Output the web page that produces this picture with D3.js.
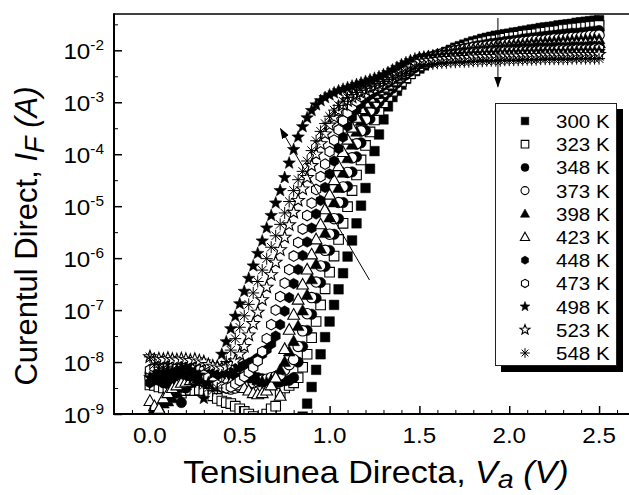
<!DOCTYPE html>
<html lang="ro">
<head>
<meta charset="UTF-8">
<title>Curentul direct - tensiunea directa</title>
<script src="https://d3js.org/d3.v7.min.js"></script>
<style>
  body { margin: 0; background: #fff; }
  svg { display: block; font-family: "Liberation Sans", Arial, sans-serif; }
</style>
</head>
<body>
<script>
// tensiunea aplicata (V), pasul masuratorii
var voltage = [
  0.000,0.025,0.050,0.075,0.100,0.125,0.150,0.175,0.200,0.225,
  0.250,0.275,0.300,0.325,0.350,0.375,0.400,0.425,0.450,0.475,
  0.500,0.525,0.550,0.575,0.600,0.625,0.650,0.675,0.700,0.725,
  0.750,0.775,0.800,0.825,0.850,0.875,0.900,0.925,0.950,0.975,
  1.000,1.025,1.050,1.075,1.100,1.125,1.150,1.175,1.200,1.225,
  1.250,1.275,1.300,1.325,1.350,1.375,1.400,1.425,1.450,1.475,
  1.500,1.525,1.550,1.575,1.600,1.625,1.650,1.675,1.700,1.725,
  1.750,1.775,1.800,1.825,1.850,1.875,1.900,1.925,1.950,1.975,
  2.000,2.025,2.050,2.075,2.100,2.125,2.150,2.175,2.200,2.225,
  2.250,2.275,2.300,2.325,2.350,2.375,2.400,2.425,2.450,2.475,
  2.500];

// log10 din curent (A); null = sub 1e-9
var logI_300K = [
  null,null,null,null,null,null,null,null,null,null,
  null,null,null,null,null,null,null,null,null,null,
  null,null,null,null,null,null,null,null,null,null,
  null,null,null,null,-9.05,-8.80,-8.48,-8.15,-7.85,-7.52,
  -7.22,-6.90,-6.60,-6.29,-5.97,-5.66,-5.33,-4.99,-4.65,-4.28,
  -3.94,-3.62,-3.33,-3.08,-2.90,-2.78,-2.66,-2.55,-2.46,-2.40,
  -2.35,-2.29,-2.23,-2.17,-2.12,-2.07,-2.03,-1.99,-1.95,-1.92,
  -1.89,-1.86,-1.83,-1.81,-1.78,-1.76,-1.74,-1.72,-1.71,-1.69,
  -1.68,-1.66,-1.65,-1.63,-1.62,-1.60,-1.59,-1.57,-1.56,-1.55,
  -1.54,-1.52,-1.51,-1.50,-1.49,-1.47,-1.46,-1.45,-1.44,-1.43,
  -1.42];
var logI_323K = [
  -8.44,-8.45,-8.48,-8.50,-8.52,-8.50,-8.55,-8.60,-8.55,-8.54,
  -8.55,-8.54,-8.55,-8.60,-8.65,-8.70,-8.75,-8.78,-8.80,-8.85,
  -8.90,-8.95,-9.00,-9.05,-9.10,-9.20,-9.00,-8.90,-8.85,-8.60,
  -8.50,-8.45,-8.40,-8.30,-8.10,-7.85,-7.53,-7.22,-6.90,-6.59,
  -6.27,-5.96,-5.64,-5.33,-5.01,-4.70,-4.40,-4.11,-3.83,-3.57,
  -3.34,-3.16,-3.01,-2.89,-2.79,-2.69,-2.60,-2.53,-2.45,-2.38,
  -2.30,-2.25,-2.21,-2.16,-2.12,-2.08,-2.05,-2.02,-1.99,-1.96,
  -1.94,-1.91,-1.89,-1.87,-1.85,-1.83,-1.81,-1.80,-1.78,-1.77,
  -1.75,-1.74,-1.73,-1.71,-1.70,-1.69,-1.68,-1.66,-1.65,-1.64,
  -1.63,-1.62,-1.60,-1.59,-1.58,-1.57,-1.56,-1.55,-1.54,-1.53,
  -1.52];
var logI_348K = [
  -8.22,-8.30,-8.35,-8.40,-8.42,-8.45,-8.47,-8.78,-8.50,-8.40,
  -8.35,-8.30,-8.28,-8.25,-8.22,-8.20,-8.22,-8.25,-8.28,-8.30,
  -8.30,-8.32,-8.30,-8.28,-8.30,-8.32,-8.35,-8.38,-8.40,-8.38,
  -8.36,-8.35,-8.30,-8.00,-7.70,-7.39,-7.08,-6.77,-6.47,-6.16,
  -5.85,-5.54,-5.24,-4.93,-4.62,-4.34,-4.05,-3.78,-3.54,-3.32,
  -3.14,-3.00,-2.90,-2.81,-2.73,-2.63,-2.54,-2.47,-2.40,-2.33,
  -2.26,-2.22,-2.18,-2.14,-2.10,-2.07,-2.05,-2.02,-2.00,-1.98,
  -1.96,-1.95,-1.93,-1.91,-1.90,-1.88,-1.87,-1.86,-1.85,-1.83,
  -1.82,-1.81,-1.80,-1.78,-1.77,-1.76,-1.75,-1.74,-1.73,-1.72,
  -1.71,-1.70,-1.69,-1.68,-1.67,-1.67,-1.66,-1.65,-1.64,-1.63,
  -1.62];
var logI_373K = [
  -8.30,-8.25,-8.22,-8.20,-8.18,-8.20,-8.22,-8.25,-8.28,-8.30,
  -8.32,-8.35,-8.38,-8.40,-8.42,-8.45,-8.48,-8.50,-8.52,-8.50,
  -8.48,-8.45,-8.42,-8.40,-8.38,-8.35,-8.33,-8.30,-8.28,-8.25,
  -8.15,-8.05,-7.95,-7.70,-7.40,-7.07,-6.76,-6.46,-6.15,-5.85,
  -5.54,-5.24,-4.93,-4.63,-4.35,-4.07,-3.80,-3.55,-3.33,-3.16,
  -3.02,-2.91,-2.82,-2.74,-2.66,-2.58,-2.50,-2.43,-2.36,-2.29,
  -2.22,-2.19,-2.15,-2.12,-2.09,-2.07,-2.05,-2.03,-2.01,-2.00,
  -1.98,-1.97,-1.95,-1.94,-1.93,-1.92,-1.91,-1.90,-1.89,-1.88,
  -1.87,-1.86,-1.85,-1.84,-1.83,-1.82,-1.81,-1.81,-1.80,-1.79,
  -1.78,-1.78,-1.77,-1.76,-1.75,-1.75,-1.74,-1.73,-1.72,-1.72,
  -1.71];
var logI_398K = [
  -9.05,-8.95,-8.88,-8.80,-8.76,-8.70,-8.60,-8.50,-8.45,-8.40,
  -8.35,-8.30,-8.28,-8.25,-8.22,-8.20,-8.22,-8.25,-8.28,-8.30,
  -8.32,-8.30,-8.30,-8.32,-8.35,-8.38,-8.40,-8.35,-8.28,-8.15,
  -8.00,-7.80,-7.60,-7.31,-7.01,-6.71,-6.41,-6.12,-5.82,-5.52,
  -5.22,-4.93,-4.65,-4.36,-4.08,-3.82,-3.57,-3.36,-3.18,-3.03,
  -2.92,-2.84,-2.77,-2.70,-2.63,-2.56,-2.48,-2.41,-2.34,-2.27,
  -2.20,-2.17,-2.14,-2.12,-2.09,-2.08,-2.06,-2.05,-2.03,-2.02,
  -2.01,-2.00,-1.98,-1.97,-1.96,-1.95,-1.94,-1.93,-1.92,-1.92,
  -1.91,-1.90,-1.89,-1.89,-1.88,-1.87,-1.86,-1.86,-1.85,-1.84,
  -1.84,-1.83,-1.83,-1.82,-1.82,-1.81,-1.81,-1.80,-1.80,-1.79,
  -1.79];
var logI_423K = [
  -8.75,-8.85,-8.90,-8.70,-8.60,-8.50,-8.45,-8.40,-8.38,-8.35,
  -8.32,-8.30,-8.30,-8.28,-8.30,-8.32,-8.35,-8.38,-8.40,-8.42,
  -8.45,-8.50,-8.55,-8.60,-8.62,-8.60,-8.55,-8.45,-8.30,-8.65,
  -7.75,-7.38,-7.09,-6.80,-6.51,-6.22,-5.93,-5.64,-5.35,-5.06,
  -4.78,-4.50,-4.23,-3.96,-3.72,-3.49,-3.30,-3.13,-3.01,-2.91,
  -2.84,-2.77,-2.72,-2.66,-2.60,-2.53,-2.46,-2.39,-2.32,-2.25,
  -2.18,-2.16,-2.13,-2.11,-2.09,-2.08,-2.07,-2.05,-2.04,-2.03,
  -2.02,-2.01,-2.00,-1.99,-1.98,-1.98,-1.97,-1.96,-1.96,-1.95,
  -1.95,-1.94,-1.94,-1.93,-1.93,-1.92,-1.92,-1.91,-1.91,-1.91,
  -1.90,-1.90,-1.89,-1.89,-1.88,-1.88,-1.87,-1.87,-1.87,-1.86,
  -1.86];
var logI_448K = [
  -8.40,-8.35,-8.30,-8.32,-8.28,-8.30,-8.25,-8.22,-8.25,-8.28,
  -8.30,-8.32,-8.35,-8.30,-8.28,-8.25,-8.20,-8.18,-8.15,-8.12,
  -8.10,-8.06,-8.02,-7.98,-7.92,-7.85,-7.76,-7.65,-7.50,-7.28,
  -7.02,-6.76,-6.49,-6.22,-5.95,-5.69,-5.42,-5.15,-4.89,-4.64,
  -4.38,-4.13,-3.89,-3.67,-3.46,-3.29,-3.14,-3.03,-2.93,-2.86,
  -2.80,-2.74,-2.68,-2.63,-2.57,-2.51,-2.44,-2.37,-2.30,-2.23,
  -2.17,-2.15,-2.13,-2.12,-2.10,-2.09,-2.08,-2.07,-2.06,-2.05,
  -2.04,-2.04,-2.03,-2.02,-2.01,-2.01,-2.00,-1.99,-1.99,-1.98,
  -1.98,-1.97,-1.97,-1.96,-1.96,-1.96,-1.95,-1.95,-1.95,-1.95,
  -1.94,-1.94,-1.94,-1.94,-1.93,-1.93,-1.93,-1.93,-1.92,-1.92,
  -1.92];
var logI_473K = [
  -8.15,-8.10,-8.08,-8.10,-8.10,-8.09,-8.10,-8.10,-8.08,-8.10,
  -8.12,-8.15,-8.25,-8.30,-8.38,-8.44,-8.48,-8.50,-8.48,-8.42,
  -8.36,-8.28,-8.20,-8.10,-7.98,-7.80,-7.55,-7.28,-7.00,-6.74,
  -6.48,-6.22,-5.96,-5.70,-5.44,-5.18,-4.94,-4.68,-4.43,-4.19,
  -3.95,-3.73,-3.53,-3.35,-3.20,-3.08,-2.98,-2.89,-2.83,-2.77,
  -2.73,-2.69,-2.64,-2.59,-2.54,-2.48,-2.42,-2.36,-2.29,-2.22,
  -2.16,-2.15,-2.14,-2.12,-2.11,-2.10,-2.10,-2.09,-2.08,-2.07,
  -2.07,-2.06,-2.05,-2.05,-2.04,-2.04,-2.03,-2.03,-2.03,-2.02,
  -2.02,-2.02,-2.02,-2.01,-2.01,-2.01,-2.01,-2.00,-2.00,-2.00,
  -2.00,-1.99,-1.99,-1.99,-1.99,-1.98,-1.98,-1.98,-1.98,-1.97,
  -1.97];
var logI_498K = [
  -8.30,-8.25,-8.20,-8.22,-8.18,-8.20,-8.15,-8.12,-8.10,-8.15,
  -8.20,-8.25,-8.70,-8.40,-8.22,-8.08,-7.85,-7.61,-7.36,-7.12,
  -6.88,-6.64,-6.39,-6.15,-5.91,-5.67,-5.42,-5.18,-4.94,-4.70,
  -4.45,-4.17,-3.91,-3.67,-3.47,-3.30,-3.16,-3.05,-2.97,-2.91,
  -2.86,-2.82,-2.78,-2.75,-2.72,-2.69,-2.66,-2.63,-2.60,-2.57,
  -2.54,-2.51,-2.47,-2.43,-2.38,-2.33,-2.28,-2.24,-2.20,-2.17,
  -2.14,-2.13,-2.12,-2.12,-2.11,-2.11,-2.10,-2.10,-2.09,-2.09,
  -2.08,-2.08,-2.07,-2.07,-2.07,-2.06,-2.06,-2.06,-2.06,-2.05,
  -2.05,-2.05,-2.05,-2.04,-2.04,-2.04,-2.04,-2.03,-2.03,-2.03,
  -2.03,-2.03,-2.03,-2.03,-2.02,-2.02,-2.02,-2.02,-2.02,-2.02,
  -2.02];
var logI_523K = [
  -7.90,-7.96,-7.94,-7.95,-7.93,-7.95,-7.96,-7.94,-7.95,-7.97,
  -7.95,-7.98,-8.00,-8.05,-8.08,-8.10,-8.12,-8.10,-8.05,-7.98,
  -7.85,-7.70,-7.48,-7.26,-7.04,-6.80,-6.56,-6.32,-6.08,-5.84,
  -5.60,-5.36,-5.12,-4.89,-4.67,-4.45,-4.22,-4.00,-3.80,-3.61,
  -3.44,-3.29,-3.16,-3.05,-2.97,-2.90,-2.85,-2.80,-2.76,-2.72,
  -2.69,-2.65,-2.61,-2.57,-2.52,-2.47,-2.42,-2.37,-2.32,-2.27,
  -2.22,-2.21,-2.20,-2.19,-2.18,-2.17,-2.16,-2.16,-2.15,-2.15,
  -2.14,-2.14,-2.13,-2.13,-2.12,-2.12,-2.12,-2.12,-2.11,-2.11,
  -2.11,-2.11,-2.11,-2.10,-2.10,-2.10,-2.10,-2.10,-2.09,-2.09,
  -2.09,-2.09,-2.09,-2.09,-2.09,-2.08,-2.08,-2.08,-2.08,-2.08,
  -2.08];
var logI_548K = [
  -7.90,-8.05,-8.10,-8.12,-8.08,-8.15,-8.20,-8.18,-8.25,-8.30,
  -8.35,-8.40,-8.45,-8.50,-8.55,-8.50,-8.25,-7.99,-7.77,-7.55,
  -7.33,-7.11,-6.89,-6.67,-6.45,-6.23,-6.01,-5.79,-5.57,-5.35,
  -5.13,-4.91,-4.70,-4.49,-4.33,-4.13,-3.93,-3.74,-3.56,-3.41,
  -3.27,-3.15,-3.06,-2.98,-2.91,-2.85,-2.81,-2.77,-2.73,-2.70,
  -2.67,-2.64,-2.60,-2.56,-2.52,-2.48,-2.44,-2.40,-2.36,-2.32,
  -2.28,-2.27,-2.27,-2.26,-2.25,-2.24,-2.24,-2.23,-2.23,-2.22,
  -2.22,-2.22,-2.21,-2.21,-2.21,-2.20,-2.20,-2.20,-2.20,-2.19,
  -2.19,-2.19,-2.19,-2.18,-2.18,-2.18,-2.18,-2.17,-2.17,-2.17,
  -2.17,-2.17,-2.17,-2.17,-2.16,-2.16,-2.16,-2.16,-2.16,-2.16,
  -2.16];

var temperatures = ["300 K","323 K","348 K","373 K","398 K","423 K","448 K","473 K","498 K","523 K","548 K"];
var seriesLog = [logI_300K, logI_323K, logI_348K, logI_373K, logI_398K, logI_423K,
                 logI_448K, logI_473K, logI_498K, logI_523K, logI_548K];

var xMajorTicks = [0, 0.5, 1.0, 1.5, 2.0, 2.5];
var xMinorTicks = [-0.1,0.1,0.2,0.3,0.4,0.6,0.7,0.8,0.9,1.1,1.2,1.3,1.4,1.6,1.7,1.8,1.9,2.1,2.2,2.3,2.4,2.6];
var yExponents = [-9,-8,-7,-6,-5,-4,-3,-2];
var yMinorExponents = [-8.5,-7.5,-6.5,-5.5,-4.5,-3.5,-2.5,-1.5];

// sageti: de la [V, I] la [V, I]
var arrowHighV = {from: [1.937, 4.2e-2], to: [1.937, 2.0e-3]};
var arrowSlope = {from: [1.222, 3.8e-7], to: [0.727, 3.1e-4]};

// stil simboluri (Origin)
var symbolType = ["square","square","circle","circle","triangle","triangle","hexagon","hexagon","star","star","asterisk"];
var symbolFilled = [true,false,true,false,true,false,true,false,true,false,false];
var plotSize = {square:4.8, circle:5.2, triangle:5.9, hexagon:5.3, star:6.6, asterisk:6.0};
var legendSize = {square:3.8, circle:4.0, triangle:4.6, hexagon:4.1, star:5.2, asterisk:4.8};

var width = 629, height = 495;
var pLeft = 114, pTop = 14, pBottom = 414, pRight = 635;
var textStretch = 1.1;

var svg = d3.select("body").append("svg")
  .attr("width", width)
  .attr("height", height);

var x = d3.scaleLinear().domain([-0.2, 2.7]).range([pLeft, pRight]);
var y = d3.scaleLog().domain([1e-9, 0.05]).range([pBottom, pTop]);

function symbolPath(type, r) {
  var p = d3.path(), k, a;
  if (type === "square") {
    p.rect(-r, -r, 2 * r, 2 * r);
  } else if (type === "circle") {
    p.moveTo(r, 0);
    p.arc(0, 0, r, 0, 2 * Math.PI);
    p.closePath();
  } else if (type === "triangle") {
    p.moveTo(0, -r * 1.05);
    p.lineTo(r * 1.0, r * 0.75);
    p.lineTo(-r * 1.0, r * 0.75);
    p.closePath();
  } else if (type === "hexagon") {
    for (k = 0; k < 6; k++) {
      a = Math.PI / 3 * k - Math.PI / 2;
      if (k === 0) p.moveTo(r * Math.cos(a), r * Math.sin(a));
      else p.lineTo(r * Math.cos(a), r * Math.sin(a));
    }
    p.closePath();
  } else if (type === "star") {
    for (k = 0; k < 10; k++) {
      a = Math.PI / 5 * k - Math.PI / 2;
      var rr = (k % 2 === 0) ? r : r * 0.42;
      if (k === 0) p.moveTo(rr * Math.cos(a), rr * Math.sin(a));
      else p.lineTo(rr * Math.cos(a), rr * Math.sin(a));
    }
    p.closePath();
  } else if (type === "asterisk") {
    for (k = 0; k < 4; k++) {
      a = Math.PI / 4 * k;
      p.moveTo(-r * Math.cos(a), -r * Math.sin(a));
      p.lineTo(r * Math.cos(a), r * Math.sin(a));
    }
  }
  return p.toString();
}

function styleSymbol(sel, k) {
  var t = symbolType[k];
  if (t === "asterisk") {
    sel.attr("fill", "none").attr("stroke", "#000").attr("stroke-width", 1);
  } else if (symbolFilled[k]) {
    sel.attr("fill", "#000").attr("stroke", "#000").attr("stroke-width", 0.5);
  } else {
    sel.attr("fill", "#fff").attr("stroke", "#000").attr("stroke-width", 1.1);
  }
}

var defs = svg.append("defs");
defs.append("clipPath").attr("id", "plotClip")
  .append("rect")
  .attr("x", pLeft).attr("y", pTop)
  .attr("width", pRight - pLeft).attr("height", pBottom - pTop);
defs.append("marker")
  .attr("id", "arrowHead")
  .attr("viewBox", "0 0 10 10")
  .attr("refX", 9).attr("refY", 5)
  .attr("markerWidth", 11).attr("markerHeight", 11)
  .attr("markerUnits", "userSpaceOnUse")
  .attr("orient", "auto")
  .append("path")
  .attr("d", "M0,1.5 L10,5 L0,8.5 Z")
  .attr("fill", "#000");

// puncte
var plotG = svg.append("g").attr("clip-path", "url(#plotClip)");
seriesLog.forEach(function(s, k) {
  var pts = [];
  voltage.forEach(function(v, i) {
    if (s[i] !== null) pts.push({v: v, i: Math.pow(10, s[i])});
  });
  plotG.append("g").selectAll("path")
    .data(pts)
    .enter()
    .append("path")
    .attr("transform", function(d) { return "translate(" + x(d.v) + "," + y(d.i) + ")"; })
    .attr("d", symbolPath(symbolType[k], plotSize[symbolType[k]]))
    .call(styleSymbol, k);
});

// sageti
[arrowHighV, arrowSlope].forEach(function(a) {
  svg.append("line")
    .attr("x1", x(a.from[0])).attr("y1", y(a.from[1]))
    .attr("x2", x(a.to[0])).attr("y2", y(a.to[1]))
    .attr("stroke", "#000").attr("stroke-width", 1)
    .attr("marker-end", "url(#arrowHead)");
});

// axe
var xMajor = svg.append("g").attr("transform", "translate(0," + pBottom + ")")
  .call(d3.axisBottom(x).tickValues(xMajorTicks).tickSize(-8).tickFormat(""));
var xMinor = svg.append("g").attr("transform", "translate(0," + pBottom + ")")
  .call(d3.axisBottom(x).tickValues(xMinorTicks).tickSize(-4).tickFormat(""));
var yMajor = svg.append("g").attr("transform", "translate(" + pLeft + ",0)")
  .call(d3.axisLeft(y).tickValues(yExponents.map(function(e) { return Math.pow(10, e); })).tickSize(-8).tickFormat(""));
var yMinor = svg.append("g").attr("transform", "translate(" + pLeft + ",0)")
  .call(d3.axisLeft(y).tickValues(yMinorExponents.map(function(e) { return Math.pow(10, e); })).tickSize(-4).tickFormat(""));
[xMajor, xMinor, yMajor, yMinor].forEach(function(g) {
  g.select(".domain").remove();
  g.selectAll(".tick line").attr("stroke", "#000");
});
xMajor.selectAll(".tick line").attr("stroke-width", 1.5);
yMajor.selectAll(".tick line").attr("stroke-width", 1.5);

svg.append("line").attr("x1", pLeft).attr("x2", width).attr("y1", pTop).attr("y2", pTop)
  .attr("stroke", "#000").attr("stroke-width", 1.5);
svg.append("line").attr("x1", pLeft).attr("x2", width).attr("y1", pBottom).attr("y2", pBottom)
  .attr("stroke", "#000").attr("stroke-width", 2);
svg.append("line").attr("x1", pLeft).attr("x2", pLeft).attr("y1", pTop - 0.75).attr("y2", pBottom + 1)
  .attr("stroke", "#000").attr("stroke-width", 2);

// etichete axa X
svg.append("g").selectAll("text")
  .data(xMajorTicks)
  .enter()
  .append("text")
  .attr("transform", function(d) { return "translate(" + x(d) + "," + 443 + ") scale(" + textStretch + ",1)"; })
  .attr("text-anchor", "middle")
  .attr("font-size", 22)
  .text(function(d) { return d3.format(".1f")(d); });

// etichete axa Y
var yLab = svg.append("g").selectAll("text")
  .data(yExponents)
  .enter()
  .append("text")
  .attr("transform", function(d) { return "translate(" + 104 + "," + (y(Math.pow(10, d)) + 9) + ") scale(" + textStretch + ",1)"; })
  .attr("text-anchor", "end")
  .attr("font-size", 22);
yLab.append("tspan").text("10");
yLab.append("tspan").attr("font-size", 14).attr("dy", -9).text(function(d) { return String(d); });

// titluri
var xt = svg.append("text")
  .attr("transform", "translate(376,483) scale(" + textStretch + ",1)")
  .attr("text-anchor", "middle")
  .attr("font-size", 31);
xt.append("tspan").text("Tensiunea Directa, ");
xt.append("tspan").attr("font-style", "italic").text("V");
xt.append("tspan").attr("font-style", "italic").attr("font-size", 26).attr("dy", 5).text("a");
xt.append("tspan").attr("font-style", "italic").attr("dy", -5).text(" (V)");

var yt = svg.append("text")
  .attr("transform", "translate(37,236) rotate(-90)")
  .attr("text-anchor", "middle")
  .attr("font-size", 31);
yt.append("tspan").text("Curentul Direct, ");
yt.append("tspan").attr("font-style", "italic").text("I");
yt.append("tspan").attr("font-style", "italic").attr("font-size", 27).attr("dy", 7).text("F");
yt.append("tspan").attr("font-style", "italic").attr("dy", -7).text(" (A)");

// legenda
var lg = svg.append("g");
lg.append("rect").attr("x", 501).attr("y", 109).attr("width", 122).attr("height", 263).attr("fill", "#000");
lg.append("rect").attr("x", 495.5).attr("y", 103.5).attr("width", 121).attr("height", 262)
  .attr("fill", "#fff").attr("stroke", "#222").attr("stroke-width", 1);
var rows = lg.selectAll("g.row")
  .data(temperatures)
  .enter()
  .append("g")
  .attr("class", "row")
  .attr("transform", function(d, i) { return "translate(0," + (121 + i * 23.2) + ")"; });
rows.append("path")
  .attr("transform", "translate(525,0)")
  .attr("d", function(d, i) { return symbolPath(symbolType[i], legendSize[symbolType[i]]); })
  .each(function(d, i) { styleSymbol(d3.select(this), i); });
rows.append("text")
  .attr("transform", "translate(556,7) scale(1.08,1)")
  .attr("font-size", 19)
  .text(function(d) { return d; });
</script>
</body>
</html>
